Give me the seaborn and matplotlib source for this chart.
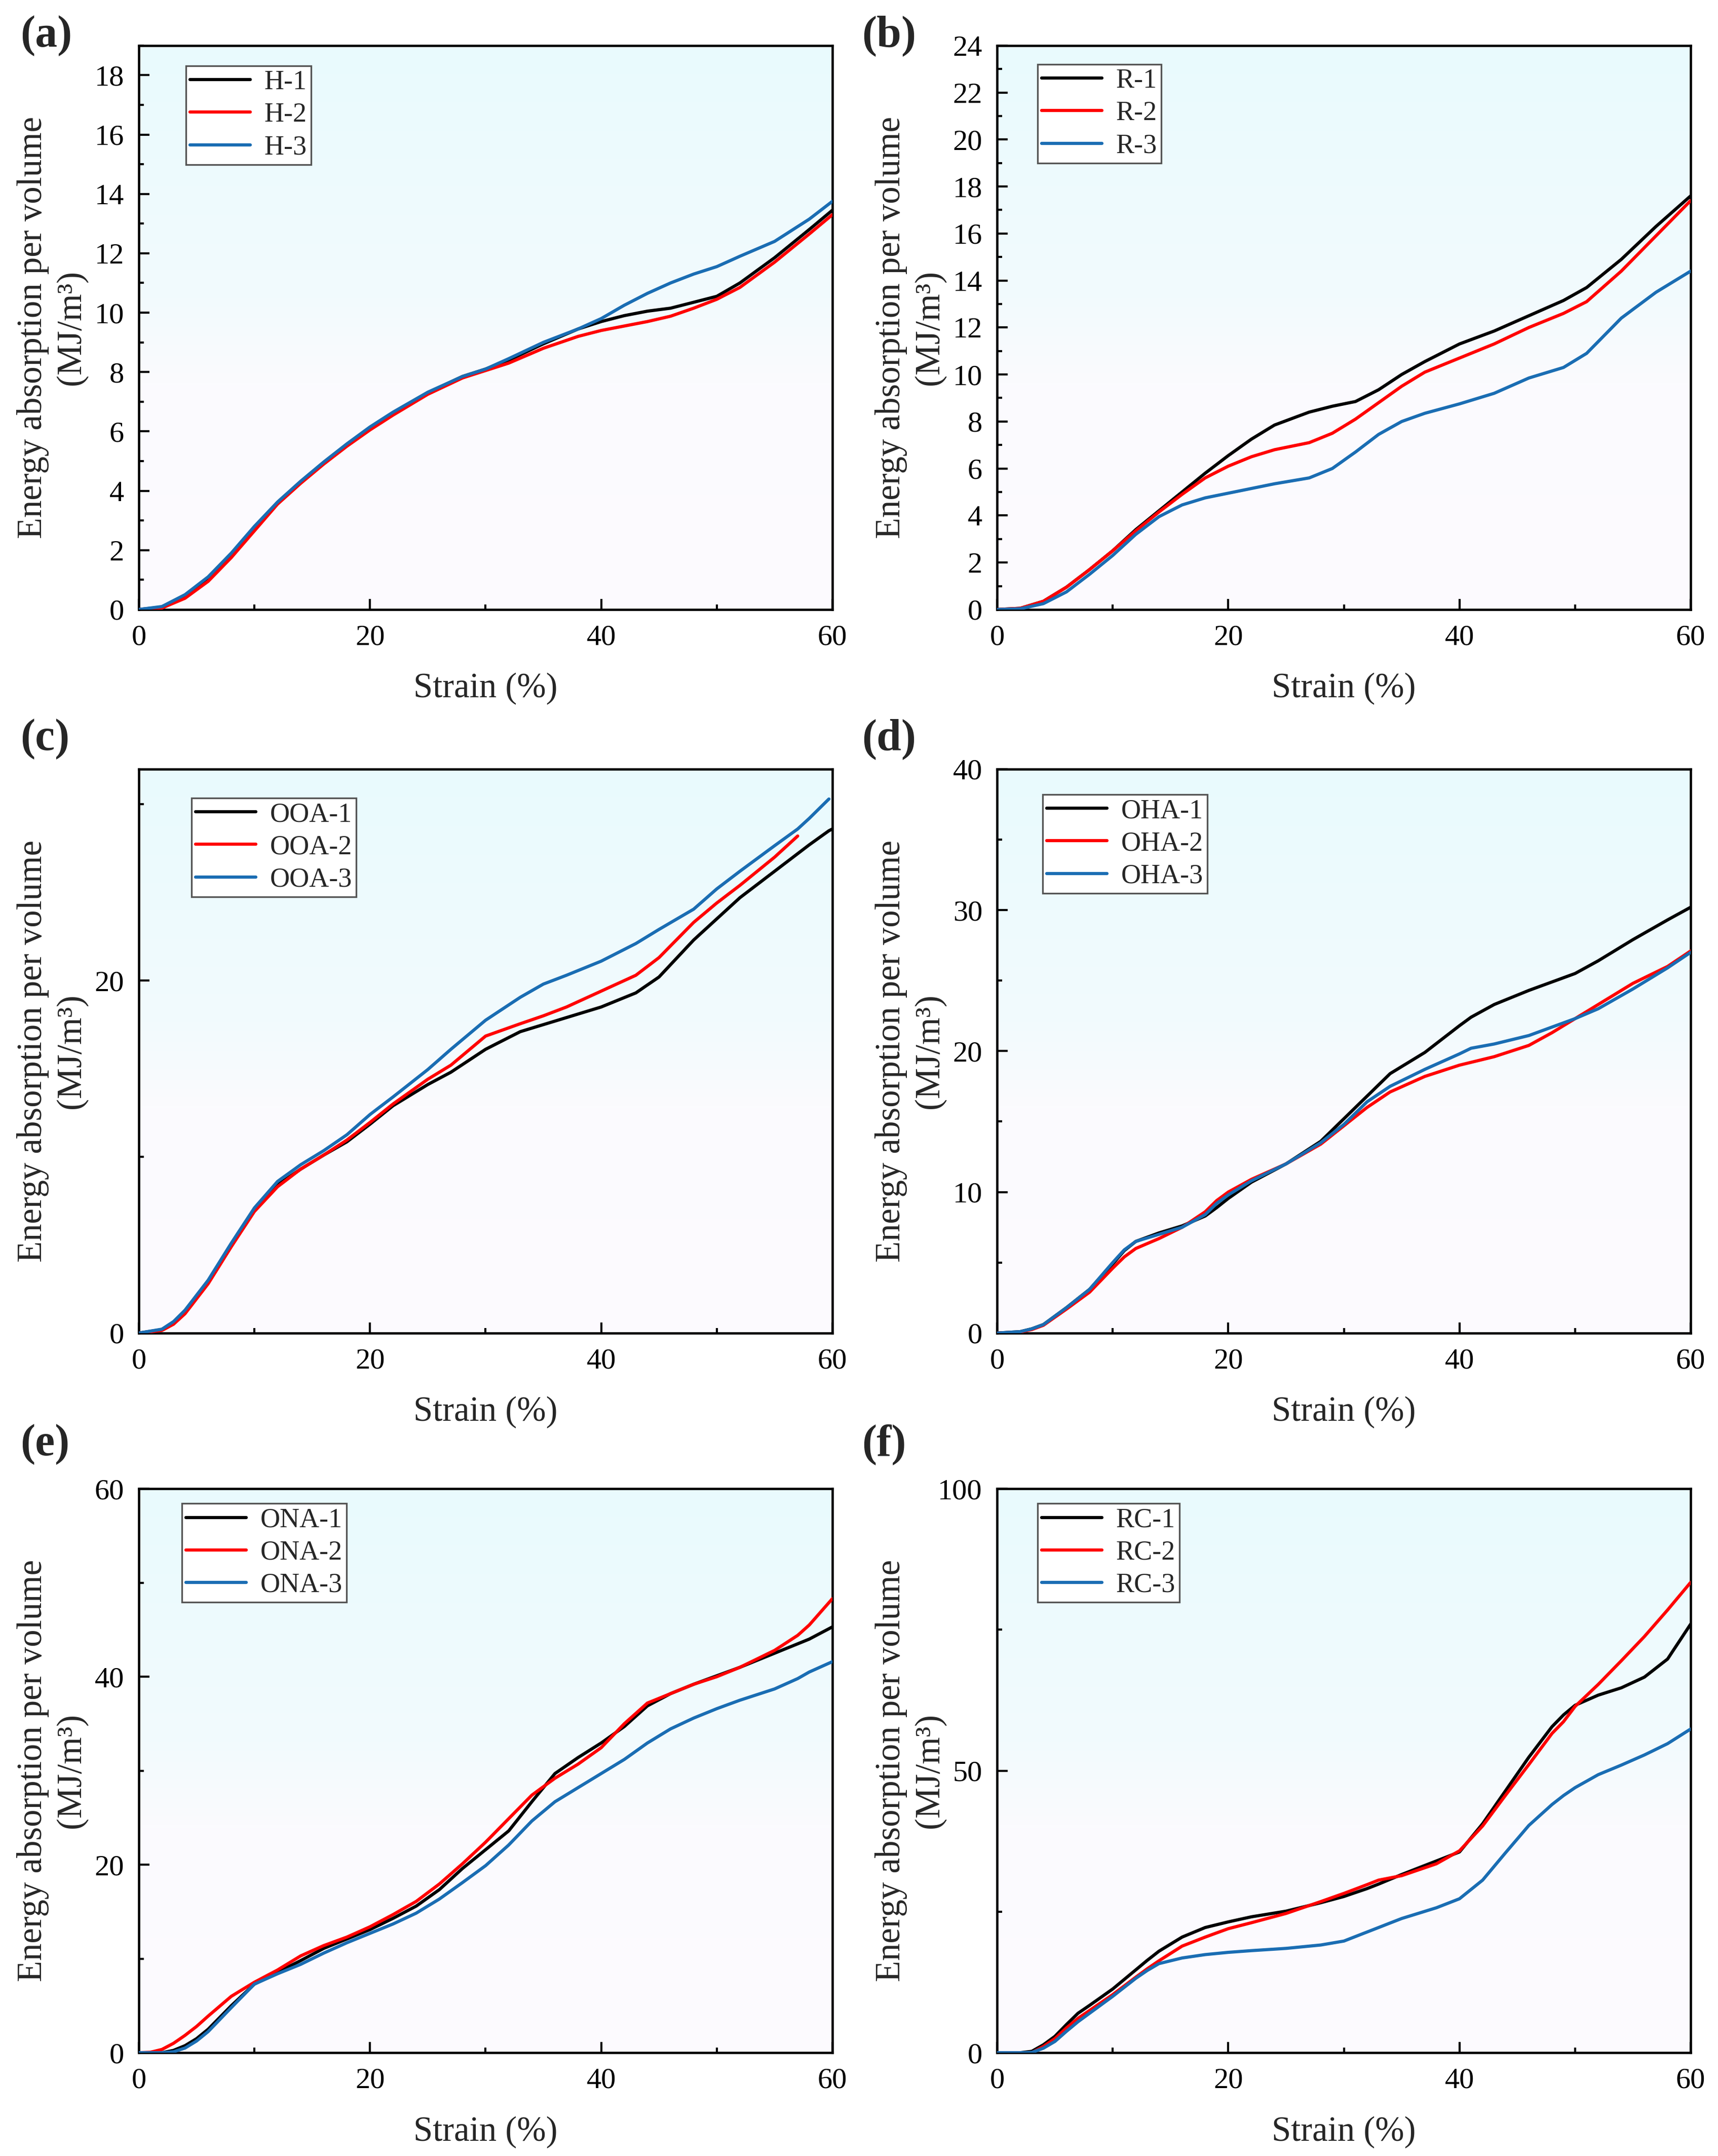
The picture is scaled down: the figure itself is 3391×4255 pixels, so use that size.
import numpy as np
import pandas as pd
import seaborn as sns
import matplotlib.pyplot as plt
from matplotlib.colors import LinearSegmentedColormap
from matplotlib.ticker import MultipleLocator

# ---- data ----
# (a) H series
strain_a = [0, 2, 4, 6, 8, 10, 12, 14, 16, 18, 20, 22, 25, 28, 30, 32, 35, 38, 40,
            42, 44, 46, 48, 50, 52, 55, 58, 60]
h1 = [0, 0.08, 0.45, 1.05, 1.85, 2.75, 3.6, 4.3, 4.95, 5.55, 6.1, 6.6, 7.3, 7.85, 8.1,
      8.4, 8.95, 9.45, 9.7, 9.9, 10.05, 10.15, 10.35, 10.55, 11.0, 11.85, 12.8, 13.45]
h2 = [0, 0.05, 0.38, 0.95, 1.75, 2.65, 3.55, 4.25, 4.9, 5.5, 6.05, 6.55, 7.25, 7.8, 8.05,
      8.3, 8.8, 9.2, 9.4, 9.55, 9.7, 9.88, 10.15, 10.45, 10.85, 11.7, 12.65, 13.3]
h3 = [0, 0.1, 0.5, 1.1, 1.9, 2.8, 3.62, 4.32, 4.97, 5.58, 6.15, 6.65, 7.32, 7.85, 8.1,
      8.45, 9.0, 9.45, 9.8, 10.25, 10.65, 11.0, 11.3, 11.55, 11.9, 12.4, 13.15, 13.75]

# (b) R series
strain_b = [0, 2, 4, 6, 8, 10, 12, 14, 16, 18, 20, 22, 24, 27, 29, 31, 33, 35, 37, 40,
            43, 46, 49, 51, 54, 57, 60]
r1 = [0, 0.05, 0.35, 0.95, 1.7, 2.5, 3.4, 4.2, 5.0, 5.8, 6.55, 7.25, 7.85, 8.4, 8.65,
      8.85, 9.35, 10.0, 10.55, 11.3, 11.85, 12.5, 13.15, 13.7, 14.9, 16.3, 17.6]
r2 = [0, 0.05, 0.35, 0.95, 1.7, 2.5, 3.35, 4.15, 4.9, 5.6, 6.1, 6.5, 6.8, 7.1, 7.5,
      8.1, 8.8, 9.5, 10.1, 10.7, 11.3, 12.0, 12.6, 13.1, 14.4, 15.9, 17.4]
r3 = [0, 0.03, 0.25, 0.75, 1.5, 2.3, 3.2, 3.95, 4.45, 4.75, 4.95, 5.15, 5.35, 5.6, 6.0,
      6.7, 7.45, 8.0, 8.35, 8.75, 9.2, 9.85, 10.3, 10.9, 12.4, 13.5, 14.4]

# (c) OOA series
strain_c = [0, 2, 3, 4, 6, 8, 10, 12, 14, 16, 18, 20, 22, 25, 27, 30, 33, 35, 37, 40,
            43, 45, 48, 50, 52, 55, 57, 58, 59.7, 60]
ooa1 = [0, 0.2, 0.6, 1.2, 2.9, 5.0, 7.0, 8.4, 9.3, 10.1, 10.85, 11.85, 12.9, 14.1, 14.8,
        16.1, 17.1, 17.5, 17.9, 18.5, 19.3, 20.2, 22.3, 23.5, 24.7, 26.2, 27.2, 27.7,
        28.5, 28.6]
ooa2 = [0, 0.15, 0.5, 1.1, 2.8, 4.9, 6.9, 8.3, 9.3, 10.1, 10.95, 11.95, 13.0, 14.4, 15.2,
        16.85, 17.55, 18.0, 18.5, 19.4, 20.3, 21.3, 23.3, 24.4, 25.4, 27.0, 28.2,
        None, None, None]
ooa3 = [0, 0.22, 0.65, 1.3, 3.0, 5.1, 7.1, 8.6, 9.55, 10.35, 11.25, 12.4, 13.4, 14.95,
        16.1, 17.75, 19.05, 19.8, 20.3, 21.1, 22.1, 22.9, 24.05, 25.2, 26.2, 27.65, 28.6,
        29.2, 30.3, None]

# (d) OHA series
strain_d = [0, 2, 3, 4, 6, 8, 10, 11, 12, 14, 16, 18, 19, 20, 22, 25, 28, 30, 32, 34, 37,
            40, 41, 43, 46, 48, 50, 52, 55, 58, 60]
oha1 = [0, 0.1, 0.3, 0.6, 1.8, 3.1, 4.9, 5.85, 6.5, 7.1, 7.6, 8.3, 8.9, 9.55, 10.7, 12.0,
        13.6, 15.2, 16.8, 18.4, 19.9, 21.8, 22.4, 23.3, 24.3, 24.9, 25.5, 26.4, 27.9,
        29.3, 30.2]
oha2 = [0, 0.08, 0.25, 0.55, 1.7, 2.9, 4.6, 5.4, 6.0, 6.7, 7.5, 8.6, 9.4, 10.0, 10.9,
        12.0, 13.4, 14.7, 16.0, 17.1, 18.2, 19.0, 19.2, 19.6, 20.4, 21.3, 22.3, 23.3,
        24.8, 26.0, 27.1]
oha3 = [0, 0.1, 0.3, 0.6, 1.8, 3.1, 5.0, 5.9, 6.5, 7.0, 7.5, 8.4, 9.2, 9.8, 10.8, 12.0,
        13.5, 14.8, 16.4, 17.5, 18.7, 19.8, 20.2, 20.5, 21.1, 21.7, 22.3, 23.0, 24.4,
        25.9, 27.0]

# (e) ONA series
strain_e = [0, 1, 2, 3, 4, 5, 6, 8, 10, 12, 14, 16, 18, 20, 22, 24, 26, 28, 30, 32, 34,
            36, 38, 40, 42, 44, 46, 48, 50, 52, 55, 57, 58, 60]
ona1 = [0, 0, 0, 0.25, 0.75, 1.5, 2.5, 5.0, 7.3, 8.55, 9.8, 11.1, 12.1, 13.1, 14.3,
        15.6, 17.35, 19.6, 21.6, 23.6, 26.7, 29.7, 31.4, 32.95, 34.7, 36.9, 38.2, 39.2,
        40.1, 41.0, 42.5, 43.5, 44.0, 45.3]
ona2 = [0, 0.05, 0.35, 1.0, 1.85, 2.8, 3.9, 6.0, 7.5, 8.8, 10.3, 11.4, 12.3, 13.4, 14.7,
        16.1, 17.95, 20.1, 22.4, 24.9, 27.4, 29.2, 30.7, 32.45, 35.0, 37.2, 38.2, 39.2,
        40.0, 41.0, 42.8, 44.4, 45.5, 48.3]
ona3 = [0, 0, 0, 0.1, 0.5, 1.25, 2.25, 4.8, 7.3, 8.4, 9.4, 10.6, 11.7, 12.7, 13.7, 14.85,
        16.35, 18.1, 19.9, 22.1, 24.65, 26.7, 28.2, 29.7, 31.2, 32.95, 34.45, 35.6, 36.6,
        37.5, 38.7, 39.8, 40.5, 41.6]

# (f) RC series
strain_f = [0, 2, 3, 4, 5, 6, 7, 8, 10, 12, 13, 14, 16, 18, 20, 22, 25, 28, 30, 32, 33,
            35, 38, 40, 42, 44, 46, 48, 49, 50, 52, 54, 56, 58, 60]
rc1 = [0, 0, 0.25, 1.4, 2.9, 5.0, 7.0, 8.4, 11.3, 14.7, 16.4, 18.0, 20.5, 22.2, 23.2,
       24.1, 25.1, 26.6, 27.7, 29.1, 29.9, 31.6, 34.0, 35.6, 40.6, 46.5, 52.4, 57.8,
       59.9, 61.6, 63.4, 64.7, 66.6, 69.8, 76.0]
rc2 = [0, 0, 0, 1.1, 2.5, 4.4, 6.1, 7.5, 10.3, 13.4, 14.9, 16.3, 18.9, 20.5, 22.0, 23.05,
       24.7, 26.8, 28.25, 29.8, 30.6, 31.4, 33.5, 35.8, 40.2, 45.7, 51.1, 56.6, 58.7,
       61.4, 65.3, 69.5, 73.8, 78.5, 83.4]
rc3 = [0, 0, 0.05, 0.8, 2.0, 3.8, 5.5, 7.0, 10.0, 13.2, 14.6, 15.8, 16.8, 17.4, 17.8,
       18.1, 18.5, 19.1, 19.8, 21.4, 22.2, 23.8, 25.7, 27.3, 30.6, 35.5, 40.3, 44.0, 45.6,
       47.0, 49.3, 51.0, 52.8, 54.8, 57.4]

panel_tags = ['(a)', '(b)', '(c)', '(d)', '(e)', '(f)']
panel_names = [['H-1', 'H-2', 'H-3'], ['R-1', 'R-2', 'R-3'],
               ['OOA-1', 'OOA-2', 'OOA-3'], ['OHA-1', 'OHA-2', 'OHA-3'],
               ['ONA-1', 'ONA-2', 'ONA-3'], ['RC-1', 'RC-2', 'RC-3']]
panel_strain = [strain_a, strain_b, strain_c, strain_d, strain_e, strain_f]
panel_values = [[h1, h2, h3], [r1, r2, r3], [ooa1, ooa2, ooa3],
                [oha1, oha2, oha3], [ona1, ona2, ona3], [rc1, rc2, rc3]]
y_max = [19, 24, 32, 40, 60, 100]
y_major = [2, 2, 20, 10, 20, 50]
y_minor = [1, 1, 10, 5, 10, 25]

# ---- style ----
sns.set_style('ticks')
plt.rcParams['font.family'] = ['Liberation Serif', 'DejaVu Serif']

colors = ['#000000', '#ff0000', '#1a6db3']
bg_cmap = LinearSegmentedColormap.from_list(
    'bg', [(0, '#fdfaff'), (0.4, '#fbfbfe'), (0.55, '#f2fafd'), (1, '#e9fafe')])
gradient = np.linspace(0, 1, 256).reshape(-1, 1)

fig = plt.figure(figsize=(3391 / 300, 4255 / 300), dpi=300)

col_left = [0.0808, 0.5804]
row_bottom = [0.7173, 0.3817, 0.0479]
ax_w, ax_h = 0.4037, 0.2616
tag_y = [0.9835, 0.6573, 0.330]
tag_x = [0.0118, 0.5016]
# legend offsets (px from axes left / top)
leg_off = [(93, 40), (80, 37), (104, 57), (90, 50), (85, 29), (80, 29)]

for i in range(6):
    r, c = divmod(i, 2)
    ax = fig.add_axes([col_left[c], row_bottom[r], ax_w, ax_h])

    ax.imshow(gradient, extent=[0, 1, 0, 1], transform=ax.transAxes,
              cmap=bg_cmap, aspect='auto', origin='lower', zorder=0)

    rows = []
    for name, vals in zip(panel_names[i], panel_values[i]):
        for s, v in zip(panel_strain[i], vals):
            rows.append({'strain': s, 'energy': v, 'specimen': name})
    df = pd.DataFrame(rows).dropna()

    sns.lineplot(data=df, x='strain', y='energy', hue='specimen',
                 hue_order=panel_names[i], palette=colors, estimator=None,
                 sort=False, linewidth=1.5, ax=ax, zorder=3)

    ax.set_xlim(0, 60)
    ax.set_ylim(0, y_max[i])
    ax.xaxis.set_major_locator(MultipleLocator(20))
    ax.xaxis.set_minor_locator(MultipleLocator(10))
    ax.yaxis.set_major_locator(MultipleLocator(y_major[i]))
    ax.yaxis.set_minor_locator(MultipleLocator(y_minor[i]))
    ax.tick_params(which='both', direction='in', top=False, right=False,
                   labelsize=14, width=1.0, pad=7, colors='black')
    ax.tick_params(which='major', length=5)
    ax.tick_params(which='minor', length=2.5)
    for sp in ax.spines.values():
        sp.set_linewidth(1.1)
        sp.set_color('black')

    ax.set_xlabel('Strain (%)', fontsize=16.5, va='center')
    ax.xaxis.set_label_coords(0.5, -0.141)
    ax.set_ylabel('Energy absorption per volume\n(MJ/m³)', fontsize=16.5,
                  linespacing=1.25)
    ax.yaxis.label.set_va('center')
    ax.yaxis.set_label_coords(-0.125, 0.5)

    handles, labels = ax.get_legend_handles_labels()
    dx, dy = leg_off[i]
    leg = ax.legend(handles, labels, loc='upper left',
                    bbox_to_anchor=(dx / 1369, 1 - dy / 1113), borderaxespad=0,
                    fontsize=13, frameon=True, fancybox=False, framealpha=1,
                    edgecolor='#555555', handlelength=2.2, handletextpad=0.5,
                    labelspacing=0.25, borderpad=0.15)
    leg.get_frame().set_linewidth(0.8)
    for ln in leg.get_lines():
        ln.set_linewidth(1.5)

    fig.text(tag_x[c], tag_y[r], panel_tags[i], fontsize=21, fontweight='bold',
             ha='left', va='center')

fig.savefig('out.png', dpi=300)
